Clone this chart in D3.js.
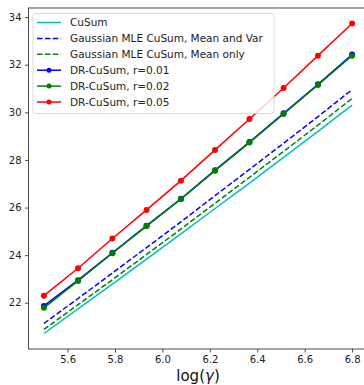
<!DOCTYPE html>
<html>
<head>
<meta charset="utf-8">
<script src="https://cdn.jsdelivr.net/npm/d3@7"></script>
<style>
  body { margin: 0; background: #fff; }
  svg text { font-family: "DejaVu Sans", sans-serif; }
</style>
</head>
<body>
<div id="chart"></div>
<script>
const logGamma = [5.5, 5.644, 5.789, 5.933, 6.078, 6.222, 6.367, 6.511, 6.656, 6.8];

const cusum       = [20.71, 21.74, 22.78, 23.83, 24.89, 25.96, 27.03, 28.11, 29.20, 30.30];
const mleMeanVar  = [21.13, 22.18, 23.25, 24.32, 25.40, 26.50, 27.60, 28.70, 29.82, 30.95];
const mleMeanOnly = [20.88, 21.92, 22.97, 24.03, 25.10, 26.18, 27.27, 28.36, 29.46, 30.58];
const dr001       = [21.87, 22.95, 24.10, 25.24, 26.37, 27.57, 28.75, 29.96, 31.18, 32.43];
const dr002       = [21.79, 22.92, 24.08, 25.22, 26.35, 27.55, 28.73, 29.93, 31.15, 32.38];
const dr005       = [22.30, 23.45, 24.70, 25.90, 27.13, 28.42, 29.72, 31.02, 32.38, 33.73];

const seriesLabels = [
  "CuSum",
  "Gaussian MLE CuSum, Mean and Var",
  "Gaussian MLE CuSum, Mean only",
  "DR-CuSum, r=0.01",
  "DR-CuSum, r=0.02",
  "DR-CuSum, r=0.05"
];
const xTicks = [5.6, 5.8, 6.0, 6.2, 6.4, 6.6, 6.8];
const yTicks = [22, 24, 26, 28, 30, 32, 34];

const width = 364;
const height = 385;
const margin = { top: 8, left: 28.5, plotW: 339, plotH: 341 };

const series = [
  { name: seriesLabels[0], values: cusum,       color: "#00bfbf", dash: null,    marker: false },
  { name: seriesLabels[1], values: mleMeanVar,  color: "#0000ff", dash: "5.5,2.4", marker: false },
  { name: seriesLabels[2], values: mleMeanOnly, color: "#008000", dash: "5.5,2.4", marker: false },
  { name: seriesLabels[3], values: dr001,       color: "#0000ff", dash: null,    marker: true },
  { name: seriesLabels[4], values: dr002,       color: "#008000", dash: null,    marker: true },
  { name: seriesLabels[5], values: dr005,       color: "#ff0000", dash: null,    marker: true }
];

const svg = d3.select("#chart")
              .append("svg")
              .attr("width", width)
              .attr("height", height);

// matplotlib-style 5% padding around data
const xExt = d3.extent(logGamma);
const xPad = (xExt[1] - xExt[0]) * 0.05;
const allY = series.flatMap(s => s.values);
const yExt = d3.extent(allY);
const yPad = (yExt[1] - yExt[0]) * 0.05;

const x = d3.scaleLinear()
            .domain([xExt[0] - xPad, xExt[1] + xPad])
            .range([margin.left, margin.left + margin.plotW]);
const y = d3.scaleLinear()
            .domain([yExt[0] - yPad, yExt[1] + yPad])
            .range([margin.top + margin.plotH, margin.top]);

const x0 = margin.left, x1 = margin.left + margin.plotW;
const y0 = margin.top, y1 = margin.top + margin.plotH;

// lines
const line = d3.line()
               .x((d, i) => x(logGamma[i]))
               .y(d => y(d));

const g = svg.append("g");
series.forEach(s => {
    g.append("path")
     .datum(s.values)
     .attr("d", line)
     .attr("fill", "none")
     .attr("stroke", s.color)
     .attr("stroke-width", 1.5)
     .attr("stroke-dasharray", s.dash);
    if (s.marker) {
        g.selectAll(null)
         .data(s.values)
         .enter()
         .append("circle")
         .attr("cx", (d, i) => x(logGamma[i]))
         .attr("cy", d => y(d))
         .attr("r", 3)
         .attr("fill", s.color);
    }
});

// axes
const xAxis = d3.axisBottom(x).tickValues(xTicks).tickFormat(d3.format(".1f")).tickSize(3.5).tickPadding(3.5);
const yAxis = d3.axisLeft(y).tickValues(yTicks).tickFormat(d3.format("d")).tickSize(3.5).tickPadding(3.5);

const gx = svg.append("g").attr("transform", `translate(0,${y1})`).call(xAxis);
const gy = svg.append("g").attr("transform", `translate(${x0},0)`).call(yAxis);
[gx, gy].forEach(a => {
    a.select(".domain").remove();
    a.selectAll(".tick line").attr("stroke", "#222").attr("stroke-width", 0.8);
    a.selectAll(".tick text").attr("fill", "#222").style("font-size", "10px");
});

// spines
svg.append("rect")
   .attr("x", x0).attr("y", y0)
   .attr("width", x1 - x0).attr("height", y1 - y0)
   .attr("fill", "none")
   .attr("stroke", "#222")
   .attr("stroke-width", 0.8);

// x label (gamma in italic, like mathtext)
const xl = svg.append("text")
   .attr("x", (x0 + x1) / 2)
   .attr("y", 381)
   .attr("text-anchor", "middle")
   .style("font-size", "15px")
   .attr("fill", "#111");
xl.append("tspan").text("log(");
xl.append("tspan").style("font-style", "italic").text("γ");
xl.append("tspan").text(")");

// legend
const legend = svg.append("g").attr("transform", "translate(33,13.5)");
legend.append("rect")
      .attr("width", 241)
      .attr("height", 100)
      .attr("rx", 2.5)
      .attr("fill", "white")
      .attr("fill-opacity", 0.8)
      .attr("stroke", "#d0d0d0")
      .attr("stroke-width", 0.8);

const rows = legend.selectAll(".row")
                   .data(series)
                   .enter()
                   .append("g")
                   .attr("class", "row")
                   .attr("transform", (d, i) => `translate(0,${9 + i * 15.9})`);

rows.append("line")
    .attr("x1", 4).attr("x2", 28)
    .attr("stroke", d => d.color)
    .attr("stroke-width", 1.5)
    .attr("stroke-dasharray", d => d.dash);
rows.filter(d => d.marker)
    .append("circle")
    .attr("cx", 16).attr("r", 2.5)
    .attr("fill", d => d.color);
rows.append("text")
    .attr("x", 37)
    .attr("dy", "0.35em")
    .style("font-size", "10.5px")
    .attr("fill", "#222")
    .text(d => d.name);
</script>
</body>
</html>
